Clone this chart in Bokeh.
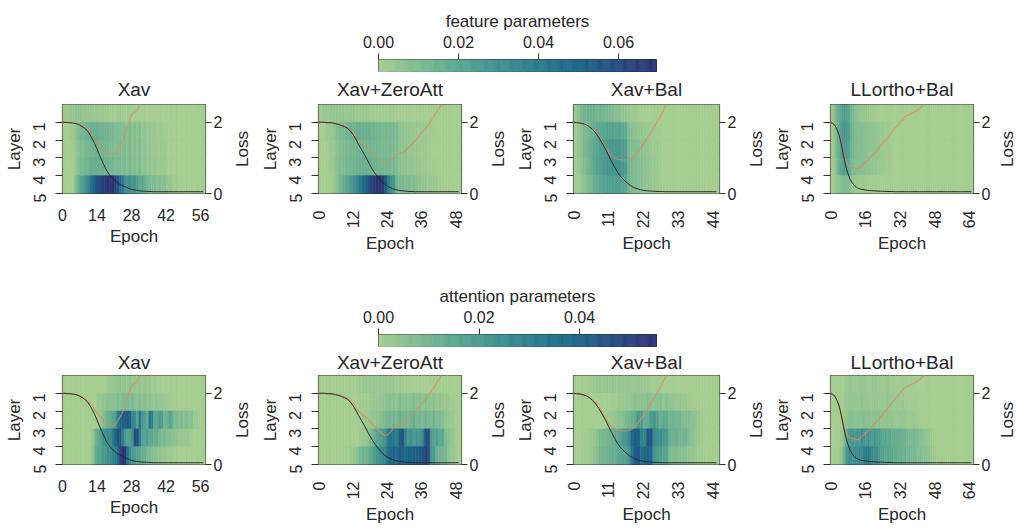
import numpy as np
from bokeh.plotting import figure
from bokeh.models import Range1d, LinearAxis, FixedTicker, NumeralTickFormatter, LinearColorMapper, ColumnDataSource
from bokeh.layouts import row, column
from bokeh.transform import transform
from bokeh.embed import file_html
from bokeh.resources import INLINE

# ---------------- data ----------------
METHODS = ["Xav", "Xav+ZeroAtt", "Xav+Bal", "LLortho+Bal"]
EPOCHS = [58, 50, 46, 66]
XTICKS_XAV = [0, 14, 28, 42, 56]
XTICKS_ZEROATT = [0, 12, 24, 36, 48]
XTICKS_BAL = [0, 11, 22, 33, 44]
XTICKS_LLORTHO = [0, 16, 32, 48, 64]
LAYER_TICKS = [0, 1, 2, 3, 4]
LAYER_LABELS = ["5", "4", "3", "2", "1"]
LOSS_TICKS = [0, 2]
FEAT_TICKS = [0.0, 0.02, 0.04, 0.06]
ATT_TICKS = [0.0, 0.02, 0.04]
FEAT_VMAX = 0.0695
ATT_VMAX = 0.0553
HEAT_UNIT = 0.001  # heat values below are in units of 1e-3

# feature parameters (rows: band 1 = top ... band 5 = bottom)
FEAT_XAV_L1 = [1,2,3,4,4,5,5,5,5,4,4,4,3,3,2,2,2,2,1,1,1,1,1,2,1,1,1,1,0,0,0,0,0,0,0,0,0,0,0,0,0,0,0,0,0,0,0,0,0,0,0,0,0,0,0,0,0,0]
FEAT_XAV_L2 = [0,0,1,2,3,5,9,11,13,14,15,15,16,16,15,15,14,13,12,12,11,10,9,10,8,9,7,10,6,8,5,8,4,5,3,4,3,3,2,2,2,1,1,0,0,0,0,0,0,0,0,0,0,0,0,0,0,0]
FEAT_XAV_L3 = [0,0,0,1,2,3,7,9,10,11,12,13,13,14,14,13,13,12,12,11,10,10,9,10,8,9,7,11,6,8,5,9,5,5,4,4,3,3,3,2,2,2,1,0,0,0,0,0,0,0,0,0,0,0,0,0,0,0]
FEAT_XAV_L4 = [0,0,0,0,1,3,8,10,12,13,14,15,15,16,16,15,15,14,14,13,12,11,10,11,9,10,8,12,7,9,6,10,5,6,4,5,3,4,3,2,3,2,1,0,0,0,0,0,0,0,0,0,0,0,0,0,0,0]
FEAT_XAV_L5 = [0,0,0,0,0,8,16,21,25,29,35,42,48,54,58,61,64,67,69,69,68,62,55,46,40,32,28,30,26,28,22,18,20,16,14,10,9,10,8,9,7,8,5,4,2,1,1,1,0,0,0,0,0,0,0,0,0,0]

FEAT_ZA_L1 = [1,2,3,3,4,4,4,4,4,3,3,3,3,2,2,2,2,2,1,1,1,1,1,1,1,1,1,0,0,0,0,0,0,0,0,0,0,0,0,0,0,0,0,0,0,0,0,0,0,0]
FEAT_ZA_L2 = [0,0,1,2,3,5,8,10,11,12,13,14,14,15,15,15,15,15,14,14,13,13,12,12,11,11,11,10,5,5,4,4,3,3,3,2,2,2,1,1,1,0,0,0,0,0,0,0,0,0]
FEAT_ZA_L3 = [0,0,0,1,2,3,6,8,9,10,11,12,12,13,13,13,13,13,13,12,12,12,11,11,10,10,10,9,5,5,5,4,4,3,3,2,2,2,1,1,0,0,0,0,0,0,0,0,0,0]
FEAT_ZA_L4 = [0,0,0,1,2,4,7,9,10,11,12,13,13,14,14,15,15,15,14,14,14,13,13,12,12,11,12,10,6,5,6,4,5,3,4,3,2,2,1,1,1,0,0,0,0,0,0,0,0,0]
FEAT_ZA_L5 = [0,0,0,0,0,3,8,12,15,18,21,25,30,34,40,45,50,56,62,66,68,68,66,55,38,30,26,12,10,11,9,10,8,9,7,6,4,5,3,3,2,2,1,0,0,0,0,0,0,0]

FEAT_BAL_L1 = [2,6,10,13,14,14,14,13,13,12,12,10,9,8,7,5,4,3,2,2,1,0,0,0,0,0,0,0,0,0,0,0,0,0,0,0,0,0,0,0,0,0,0,0,0,0]
FEAT_BAL_L2 = [1,3,6,9,12,14,16,18,19,20,21,21,21,20,20,19,17,10,7,6,5,4,3,3,2,2,1,1,0,0,0,0,0,0,0,0,0,0,0,0,0,0,0,0,0,0]
FEAT_BAL_L3 = [1,3,6,10,13,16,18,20,22,24,25,26,26,26,25,24,22,12,9,8,7,6,5,4,3,2,2,1,0,0,0,0,0,0,0,0,0,0,0,0,0,0,0,0,0,0]
FEAT_BAL_L4 = [1,2,5,8,12,15,18,21,23,25,27,28,28,28,27,26,24,14,10,9,8,7,6,5,4,3,2,1,0,0,0,0,0,0,0,0,0,0,0,0,0,0,0,0,0,0]
FEAT_BAL_L5 = [0,1,3,6,9,12,15,17,19,21,22,23,23,23,22,21,20,13,10,9,8,7,6,5,4,3,2,1,0,0,0,0,0,0,0,0,0,0,0,0,0,0,0,0,0,0]

FEAT_LL_L1 = [2,5,10,15,19,22,24,23,19,13,10,8,6,5,4,3,3,2,2,1,1,0,0,0,0,0,0,0,0,0,0,0,0,0,0,0,0,0,0,0,0,0,0,0,0,0,0,0,0,0,0,0,0,0,0,0,0,0,0,0,0,0,0,0,0,0]
FEAT_LL_L2 = [1,4,9,15,20,25,27,26,22,15,12,10,9,8,8,7,7,6,6,5,5,4,4,3,3,2,2,1,1,0,0,0,0,0,0,0,0,0,0,0,0,0,0,0,0,0,0,0,0,0,0,0,0,0,0,0,0,0,0,0,0,0,0,0,0,0]
FEAT_LL_L3 = [1,3,8,14,19,24,26,25,21,14,11,10,9,8,8,7,7,6,6,5,5,4,4,3,3,2,2,1,1,0,0,0,0,0,0,0,0,0,0,0,0,0,0,0,0,0,0,0,0,0,0,0,0,0,0,0,0,0,0,0,0,0,0,0,0,0]
FEAT_LL_L4 = [0,2,6,12,17,21,23,22,18,12,10,9,8,8,7,7,6,6,5,5,4,4,3,3,2,2,1,1,1,0,0,0,0,0,0,0,0,0,0,0,0,0,0,0,0,0,0,0,0,0,0,0,0,0,0,0,0,0,0,0,0,0,0,0,0,0]
FEAT_LL_L5 = [0,1,3,5,7,9,10,10,8,5,4,3,3,2,2,2,1,1,1,1,0,0,0,0,0,0,0,0,0,0,0,0,0,0,0,0,0,0,0,0,0,0,0,0,0,0,0,0,0,0,0,0,0,0,0,0,0,0,0,0,0,0,0,0,0,0]

# attention parameters
ATT_XAV_L1 = [0,0,0,0,0,0,0,0,0,0,0,0,0,0,0,0,0,0,2,3,2,4,3,5,3,4,2,5,3,3,2,4,2,3,2,2,1,2,1,0,0,0,0,0,0,0,0,0,0,0,0,0,0,0,0,0,0,0]
ATT_XAV_L2 = [0,0,0,0,0,0,0,0,0,0,0,0,0,0,2,3,4,4,5,5,6,6,7,6,8,9,8,7,9,6,5,7,5,6,4,5,4,3,4,3,3,2,2,1,0,0,0,0,0,0,0,0,0,0,0,0,0,0]
ATT_XAV_L3 = [0,0,0,0,0,0,0,0,0,0,0,0,0,0,0,3,6,9,12,14,16,20,30,38,40,42,44,40,28,26,18,32,22,18,14,32,30,14,16,20,18,10,12,16,14,8,8,7,8,6,7,5,6,3,2,1,0,0]
ATT_XAV_L4 = [0,0,0,0,0,0,0,0,0,0,0,0,4,10,14,18,22,24,25,26,30,42,45,44,30,22,16,18,24,46,48,30,18,16,20,14,16,12,14,9,8,9,6,7,5,5,4,4,3,3,2,2,1,0,0,0,0,0]
ATT_XAV_L5 = [0,0,0,0,0,0,0,0,0,0,0,0,5,12,16,18,20,22,24,26,28,30,34,50,55,53,34,26,20,18,16,15,13,12,9,8,7,6,5,4,3,3,2,2,1,0,0,0,0,0,0,0,0,0,0,0,0,0]

ATT_ZA_L1 = [0,0,0,0,0,0,0,0,0,0,0,0,0,1,2,2,3,2,3,3,2,3,2,3,2,2,2,1,1,1,0,0,0,0,0,0,0,0,0,0,0,0,0,0,0,0,0,0,0,0]
ATT_ZA_L2 = [0,0,0,0,0,0,0,0,0,0,0,0,0,0,1,1,1,1,2,2,2,3,4,5,6,5,6,4,7,5,6,5,6,7,5,6,4,6,5,4,5,3,4,3,2,2,1,1,0,0]
ATT_ZA_L3 = [0,0,0,0,0,0,0,0,0,0,0,0,0,0,1,1,2,2,3,3,4,5,7,9,10,9,11,8,12,9,10,8,11,12,9,10,8,11,9,8,10,7,8,6,4,3,2,1,1,0]
ATT_ZA_L4 = [0,0,0,0,0,0,0,0,0,0,0,0,0,0,1,2,3,5,8,12,16,18,20,24,33,34,32,30,40,45,28,22,24,20,23,21,26,46,48,20,16,18,14,15,8,6,4,2,1,0]
ATT_ZA_L5 = [0,0,0,0,0,0,0,0,0,0,1,2,3,5,8,10,11,12,14,18,22,24,26,28,36,38,40,37,42,40,38,41,39,42,40,43,44,50,48,22,20,12,11,10,9,5,3,2,1,0]

ATT_BAL_L1 = [0,0,0,0,1,1,2,2,2,2,3,2,3,2,3,3,2,3,2,2,3,2,2,2,1,1,1,1,0,0,0,0,0,0,0,0,0,0,0,0,0,0,0,0,0,0]
ATT_BAL_L2 = [0,0,0,0,0,0,0,0,0,0,0,0,1,1,2,2,3,3,4,5,4,5,4,6,5,4,5,6,4,5,4,4,3,3,2,2,1,0,0,0,0,0,0,0,0,0]
ATT_BAL_L3 = [0,0,0,0,0,0,0,0,0,0,1,2,3,4,5,6,8,10,12,14,20,19,13,14,19,21,16,12,15,14,10,11,9,10,8,7,7,5,4,2,1,0,0,0,0,0]
ATT_BAL_L4 = [0,0,0,0,1,2,3,5,8,9,10,11,12,14,16,20,22,26,38,42,40,30,28,44,45,26,24,25,22,20,12,11,12,10,9,10,7,5,3,2,1,0,0,0,0,0]
ATT_BAL_L5 = [0,0,0,0,1,2,4,6,9,10,11,12,13,14,15,16,18,22,34,42,44,34,38,40,38,22,20,19,17,16,8,7,7,6,6,5,4,3,2,1,1,0,0,0,0,0]

ATT_LL_L1 = [0,0,0,0,0,0,1,2,2,3,2,3,2,3,2,2,3,2,2,3,2,2,2,2,1,2,2,1,1,2,1,1,1,1,1,1,1,1,0,0,0,0,0,0,0,0,0,0,0,0,0,0,0,0,0,0,0,0,0,0,0,0,0,0,0,0]
ATT_LL_L2 = [0,0,0,0,0,0,2,3,3,3,4,3,4,3,4,3,3,4,3,3,3,3,2,3,2,2,3,2,2,2,2,2,1,2,1,1,1,1,1,1,1,1,0,0,0,0,0,0,0,0,0,0,0,0,0,0,0,0,0,0,0,0,0,0,0,0]
ATT_LL_L3 = [0,0,0,0,0,1,3,4,5,5,6,5,6,6,5,6,5,6,5,5,5,4,5,4,4,4,4,3,4,3,3,3,3,2,3,2,2,2,2,1,1,1,0,0,0,0,0,0,0,0,0,0,0,0,0,0,0,0,0,0,0,0,0,0,0,0]
ATT_LL_L4 = [0,0,0,0,1,3,8,14,18,20,22,19,24,21,25,22,20,24,21,19,22,18,20,17,15,16,14,15,13,14,12,13,12,11,12,10,9,8,9,7,8,6,6,5,4,3,2,1,0,0,0,0,0,0,0,0,0,0,0,0,0,0,0,0,0,0]
ATT_LL_L5 = [0,0,0,0,2,5,12,20,24,25,23,26,24,27,25,28,31,32,29,26,24,25,20,17,18,15,16,14,15,13,14,12,13,11,12,10,11,9,8,8,7,7,6,6,5,4,3,2,1,0,0,0,0,0,0,0,0,0,0,0,0,0,0,0,0,0]

# loss curves (black = training loss, orange = second loss curve)
LOSS_A_XAV = [2.0,2.0,1.99,1.99,1.98,1.97,1.95,1.92,1.88,1.83,1.77,1.67,1.55,1.41,1.25,1.08,0.92,0.77,0.63,0.53,0.45,0.38,0.32,0.27,0.23,0.2,0.17,0.14,0.12,0.1,0.09,0.08,0.07,0.065,0.06,0.055,0.055,0.05,0.05,0.05,0.05,0.05,0.05,0.05,0.05,0.05,0.05,0.05,0.05,0.05,0.05,0.05,0.05,0.05,0.05,0.05,0.05,0.05]
LOSS_B_XAV = [2.0,2.0,1.99,1.99,1.98,1.97,1.96,1.93,1.9,1.86,1.8,1.73,1.65,1.55,1.45,1.36,1.28,1.2,1.14,1.1,1.08,1.1,1.18,1.3,1.42,1.56,1.8,2.0,2.2,2.28,2.3,2.45,2.62,2.8]
LOSS_A_ZA = [2.0,2.0,2.0,1.99,1.99,1.98,1.96,1.94,1.91,1.88,1.84,1.77,1.66,1.53,1.38,1.24,1.1,0.95,0.8,0.66,0.54,0.44,0.35,0.27,0.21,0.17,0.13,0.11,0.09,0.08,0.07,0.06,0.055,0.055,0.05,0.05,0.05,0.05,0.05,0.05,0.05,0.05,0.05,0.05,0.05,0.05,0.05,0.05,0.05,0.05]
LOSS_B_ZA = [2.0,2.0,2.0,1.99,1.99,1.98,1.97,1.95,1.93,1.9,1.86,1.8,1.71,1.6,1.5,1.43,1.36,1.29,1.21,1.13,1.05,0.97,0.89,0.83,0.82,0.9,1.0,1.06,1.12,1.14,1.17,1.25,1.34,1.42,1.5,1.6,1.7,1.79,1.88,2.0,2.12,2.25,2.38,2.52,2.65]
LOSS_A_BAL = [2.0,1.99,1.98,1.96,1.93,1.88,1.8,1.7,1.57,1.42,1.26,1.08,0.9,0.73,0.58,0.46,0.37,0.29,0.22,0.17,0.14,0.11,0.09,0.08,0.07,0.065,0.06,0.055,0.055,0.05,0.05,0.05,0.05,0.05,0.05,0.05,0.05,0.05,0.05,0.05,0.05,0.05,0.05,0.05,0.05,0.05]
LOSS_B_BAL = [2.0,1.99,1.98,1.96,1.93,1.88,1.81,1.73,1.6,1.46,1.31,1.17,1.07,1.0,0.96,0.95,0.94,0.95,0.98,1.03,1.13,1.25,1.38,1.52,1.67,1.81,1.96,2.11,2.28,2.46,2.64]
LOSS_A_LL = [2.0,1.97,1.92,1.8,1.64,1.38,1.06,0.78,0.57,0.41,0.3,0.22,0.17,0.14,0.12,0.11,0.1,0.09,0.085,0.08,0.075,0.07,0.068,0.065,0.062,0.06,0.058,0.056,0.055,0.055,0.05,0.05,0.05,0.05,0.05,0.05,0.05,0.05,0.05,0.05,0.05,0.05,0.05,0.05,0.05,0.05,0.05,0.05,0.05,0.05,0.05,0.05,0.05,0.05,0.05,0.05,0.05,0.05,0.05,0.05,0.05,0.05,0.05,0.05,0.05,0.05]
LOSS_B_LL = [2.0,1.97,1.92,1.81,1.67,1.43,1.13,0.92,0.8,0.75,0.73,0.72,0.7,0.7,0.76,0.82,0.88,0.92,0.99,1.06,1.11,1.18,1.25,1.33,1.4,1.48,1.55,1.62,1.7,1.77,1.85,1.92,2.0,2.07,2.14,2.18,2.21,2.24,2.27,2.3,2.34,2.38,2.44,2.5,2.57]

# ---------------- style ----------------
FONT = "Liberation Sans"
TEXT = "#262626"
SPINE = "#333333"
CREST = ["#a5cd90", "#7dba91", "#59a590", "#40908e", "#287a8c", "#1c6488", "#254b7f", "#2c3172"]
FRAME_H = 94
TICK_SIZE = "16px"
LABEL_SIZE = "17px"


def build_palette(anchors, n=256):
    rgb = np.array([[int(h[i:i + 2], 16) for i in (1, 3, 5)] for h in anchors], float)
    pos = np.linspace(0, 1, len(anchors))
    t = np.linspace(0, 1, n)
    cols = np.stack([np.interp(t, pos, rgb[:, c]) for c in range(3)], axis=1)
    return ["#%02x%02x%02x" % tuple(int(round(v)) for v in c) for c in cols]


PALETTE = build_palette(CREST)


def style_axis(ax):
    ax.major_label_text_font = FONT
    ax.major_label_text_font_size = TICK_SIZE
    ax.major_label_text_color = TEXT
    ax.axis_label_text_font = FONT
    ax.axis_label_text_font_size = LABEL_SIZE
    ax.axis_label_text_font_style = "normal"
    ax.axis_label_text_color = TEXT
    ax.axis_line_color = None
    ax.minor_tick_line_color = None
    ax.major_tick_line_color = SPINE
    ax.major_tick_in = 0


def make_panel(title, n, xticks, rows, loss_a, loss_b, mapper, fw, bl, br, bt, bb, rotate, tstand):
    p = figure(width=bl + fw + br, height=bt + FRAME_H + bb,
               x_range=Range1d(0, n), y_range=Range1d(0, 5),
               min_border_left=bl, min_border_right=br, min_border_top=bt, min_border_bottom=bb,
               output_backend="svg", toolbar_location=None, title=title)
    p.title.align = "center"
    p.title.text_font = FONT
    p.title.text_font_size = "19px"
    p.title.text_font_style = "normal"
    p.title.text_color = TEXT
    p.title.standoff = tstand
    p.grid.visible = False
    p.outline_line_color = SPINE
    p.outline_line_width = 1.2
    p.background_fill_color = "white"

    left, right, bottom, top, v = [], [], [], [], []
    for k, r in enumerate(rows):
        assert len(r) == n, (title, k, len(r), n)
        y0 = 4 - k
        for i, val in enumerate(r):
            left.append(i); right.append(i + 1)
            bottom.append(y0); top.append(y0 + 1)
            v.append(val * HEAT_UNIT)
    src = ColumnDataSource(dict(left=left, right=right, bottom=bottom, top=top, v=v))
    p.quad(left="left", right="right", bottom="bottom", top="top", source=src,
           fill_color=transform("v", mapper), line_color=transform("v", mapper), line_width=0.6)

    p.extra_y_ranges = {"loss": Range1d(0, 2.5)}
    p.line(list(range(len(loss_b))), loss_b, y_range_name="loss",
           line_color="#e0895f", line_alpha=0.8, line_width=1.1)
    p.line(list(range(len(loss_a))), loss_a, y_range_name="loss",
           line_color="#2a2a2a", line_width=1.0)

    xa = p.xaxis[0]
    style_axis(xa)
    xa.ticker = FixedTicker(ticks=xticks)
    xa.major_tick_out = 0
    xa.axis_label = "Epoch"
    xa.axis_label_standoff = 3
    if rotate:
        xa.major_label_orientation = np.pi / 2
        xa.major_label_standoff = 17
    else:
        xa.major_label_standoff = 15

    ya = p.yaxis[0]
    style_axis(ya)
    ya.ticker = FixedTicker(ticks=LAYER_TICKS)
    ya.major_label_overrides = {t: lab for t, lab in zip(LAYER_TICKS, LAYER_LABELS)}
    ya.major_label_orientation = np.pi / 2
    ya.major_tick_out = 7
    ya.major_label_standoff = 16
    ya.axis_label = "Layer"
    ya.axis_label_standoff = 1

    ra = LinearAxis(y_range_name="loss", ticker=FixedTicker(ticks=LOSS_TICKS))
    style_axis(ra)
    ra.major_tick_out = 6
    ra.major_label_standoff = 2
    p.add_layout(ra, "right")
    return p


def make_loss_label(width, bt, bb, standoff):
    """Narrow companion figure whose left axis carries the 'Loss' title of the panel to its left."""
    q = figure(width=width, height=bt + FRAME_H + bb, x_range=Range1d(0, 1), y_range=Range1d(0, 2.5),
               min_border_left=width - 1, min_border_right=0, min_border_top=bt, min_border_bottom=bb,
               output_backend="svg", toolbar_location=None)
    q.outline_line_color = None
    q.grid.visible = False
    q.xaxis.visible = False
    ax = q.yaxis[0]
    style_axis(ax)
    ax.ticker = FixedTicker(ticks=[])
    ax.major_tick_out = 0
    ax.major_label_text_font_size = "0px"
    ax.major_label_standoff = 0
    ax.axis_label = "Loss"
    ax.axis_label_standoff = standoff
    return q


def make_cbar(title, vmax, ticks, mapper, bt, bb):
    p = figure(width=378 + 278 + 10, height=bt + 13 + bb,
               x_range=Range1d(0, vmax), y_range=Range1d(0, 1),
               x_axis_location="above", y_axis_location=None,
               min_border_left=378, min_border_right=10, min_border_top=bt, min_border_bottom=bb,
               output_backend="svg", toolbar_location=None, title=title)
    p.title.align = "center"
    p.title.text_font = FONT
    p.title.text_font_size = "17px"
    p.title.text_font_style = "normal"
    p.title.text_color = TEXT
    p.title.standoff = 3
    p.grid.visible = False
    p.outline_line_color = SPINE
    p.outline_line_width = 1.0
    edges = np.linspace(0, vmax, 257)
    src = ColumnDataSource(dict(l=edges[:-1], r=edges[1:], m=(edges[:-1] + edges[1:]) / 2))
    p.quad(left="l", right="r", bottom=0, top=1, source=src,
           fill_color=transform("m", mapper), line_color=transform("m", mapper), line_width=0.6)
    xa = p.xaxis[0]
    style_axis(xa)
    xa.ticker = FixedTicker(ticks=ticks)
    xa.formatter = NumeralTickFormatter(format="0.00")
    xa.major_tick_out = 6
    xa.major_label_standoff = 6
    return p


feat_mapper = LinearColorMapper(palette=PALETTE, low=0, high=FEAT_VMAX)
att_mapper = LinearColorMapper(palette=PALETTE, low=0, high=ATT_VMAX)

XTICKS = [XTICKS_XAV, XTICKS_ZEROATT, XTICKS_BAL, XTICKS_LLORTHO]
FEAT_ROWS = [
    [FEAT_XAV_L1, FEAT_XAV_L2, FEAT_XAV_L3, FEAT_XAV_L4, FEAT_XAV_L5],
    [FEAT_ZA_L1, FEAT_ZA_L2, FEAT_ZA_L3, FEAT_ZA_L4, FEAT_ZA_L5],
    [FEAT_BAL_L1, FEAT_BAL_L2, FEAT_BAL_L3, FEAT_BAL_L4, FEAT_BAL_L5],
    [FEAT_LL_L1, FEAT_LL_L2, FEAT_LL_L3, FEAT_LL_L4, FEAT_LL_L5],
]
ATT_ROWS = [
    [ATT_XAV_L1, ATT_XAV_L2, ATT_XAV_L3, ATT_XAV_L4, ATT_XAV_L5],
    [ATT_ZA_L1, ATT_ZA_L2, ATT_ZA_L3, ATT_ZA_L4, ATT_ZA_L5],
    [ATT_BAL_L1, ATT_BAL_L2, ATT_BAL_L3, ATT_BAL_L4, ATT_BAL_L5],
    [ATT_LL_L1, ATT_LL_L2, ATT_LL_L3, ATT_LL_L4, ATT_LL_L5],
]
LOSS_A = [LOSS_A_XAV, LOSS_A_ZA, LOSS_A_BAL, LOSS_A_LL]
LOSS_B = [LOSS_B_XAV, LOSS_B_ZA, LOSS_B_BAL, LOSS_B_LL]

# panel geometry: (frame width, left border, right border, loss-label strip width, label standoff)
GEOM = [(143, 62, 22, 28, 3), (143, 63, 22, 28, 3), (146, 62, 22, 28, 3), (143, 61, 22, 21, 0)]


def build_row(rows_list, mapper, bt, bb, tstand):
    kids = []
    for i in range(4):
        fw, bl, br, lw, ls = GEOM[i]
        kids.append(make_panel(METHODS[i], EPOCHS[i], XTICKS[i], rows_list[i], LOSS_A[i], LOSS_B[i],
                               mapper, fw, bl, br, bt, bb, i > 0, tstand))
        kids.append(make_loss_label(lw, bt, bb, ls))
    return row(*kids)


cb1 = make_cbar("feature parameters", FEAT_VMAX, FEAT_TICKS, feat_mapper, 59, 0)
row1 = build_row(FEAT_ROWS, feat_mapper, 30, 60, 9)
cb2 = make_cbar("attention parameters", ATT_VMAX, ATT_TICKS, att_mapper, 78, 0)
row2 = build_row(ATT_ROWS, att_mapper, 27, 59, 5)

layout = column(cb1, row1, cb2, row2)
open("out.html", "w").write(file_html(layout, INLINE))
